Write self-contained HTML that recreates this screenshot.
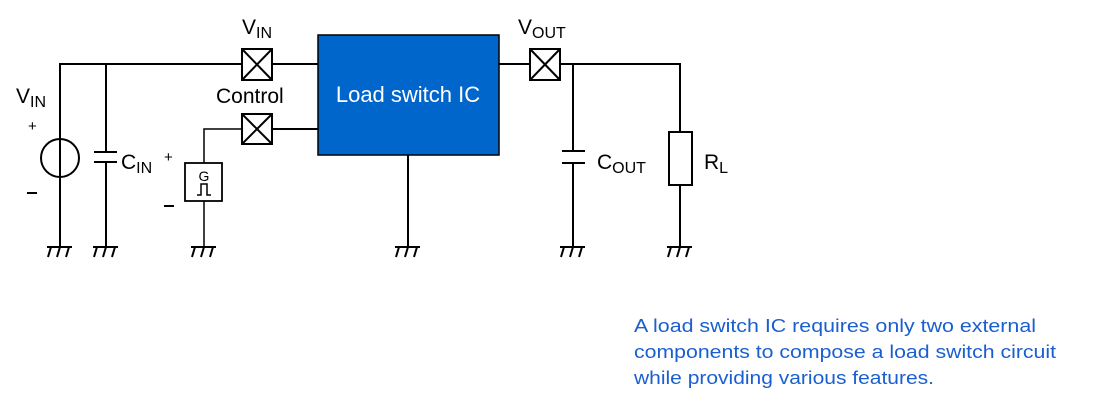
<!DOCTYPE html>
<html><head><meta charset="utf-8"><style>
html,body{margin:0;padding:0;background:#fff;}
svg{display:block;}
text{font-family:"Liberation Sans",sans-serif;}
</style></head><body>
<svg width="1110" height="402" viewBox="0 0 1110 402" xmlns="http://www.w3.org/2000/svg">
<g stroke="#000" stroke-width="2" fill="none">
<polyline points="60,248 60,64 242,64"/>
<line x1="106" y1="64" x2="106" y2="152"/>
<line x1="106" y1="162" x2="106" y2="248"/>
<line x1="94" y1="152" x2="117" y2="152"/>
<line x1="94" y1="162" x2="117" y2="162"/>
<circle cx="60" cy="158" r="19" fill="#fff"/>
<line x1="60" y1="139" x2="60" y2="177"/>
<line x1="272" y1="64" x2="318" y2="64"/>
<polyline points="242,129 204,129 204,163" stroke-width="1.5"/>
<line x1="272" y1="129" x2="318" y2="129"/>
<rect x="185" y="163" width="37" height="38" stroke-width="1.8"/>
<polyline points="197,195 201,195 201,184 207,184 207,195 211,195" stroke-width="1.5"/>
<line x1="204" y1="201" x2="204" y2="248" stroke-width="1.5"/>
<rect x="242" y="49" width="30" height="31"/>
<line x1="242" y1="49" x2="272" y2="80"/><line x1="272" y1="49" x2="242" y2="80"/>
<rect x="242" y="114" width="30" height="30"/>
<line x1="242" y1="114" x2="272" y2="144"/><line x1="272" y1="114" x2="242" y2="144"/>
<rect x="530" y="49" width="30" height="31"/>
<line x1="530" y1="49" x2="560" y2="80"/><line x1="560" y1="49" x2="530" y2="80"/>
<line x1="408" y1="155" x2="408" y2="248"/>
<line x1="499" y1="64" x2="530" y2="64"/>
<polyline points="560,64 680,64 680,132"/>
<line x1="573" y1="64" x2="573" y2="151"/>
<line x1="573" y1="163" x2="573" y2="248"/>
<line x1="562" y1="151" x2="585" y2="151"/>
<line x1="562" y1="163" x2="585" y2="163"/>
<rect x="669" y="132" width="23" height="53"/>
<line x1="680" y1="185" x2="680" y2="248"/>
<g id="gnd">
<line x1="47" y1="247" x2="72" y2="247"/>
<line x1="51" y1="247" x2="48" y2="257"/>
<line x1="60" y1="247" x2="57" y2="257"/>
<line x1="69" y1="247" x2="66" y2="257"/>
</g>
<use href="#gnd" x="46"/>
<use href="#gnd" x="144"/>
<use href="#gnd" x="348"/>
<use href="#gnd" x="513"/>
<use href="#gnd" x="620"/>
</g>
<rect x="318" y="35" width="181" height="120" fill="#0066cc" stroke="#000" stroke-width="1.5"/>
<text x="408" y="102" font-size="22" fill="#fff" text-anchor="middle">Load switch IC</text>
<g font-size="21" fill="#000">
<text x="242" y="34">V<tspan font-size="16" dy="4">IN</tspan></text>
<text x="16" y="103">V<tspan font-size="16" dy="4">IN</tspan></text>
<text x="216" y="103">Control</text>
<text x="121" y="169">C<tspan font-size="16" dy="4">IN</tspan></text>
<text x="518" y="34">V<tspan font-size="16" dy="4">OUT</tspan></text>
<text x="597" y="169">C<tspan font-size="16" dy="4">OUT</tspan></text>
<text x="704" y="169">R<tspan font-size="16" dy="4">L</tspan></text>
<text x="204" y="181" font-size="14" text-anchor="middle">G</text>
</g>
<g font-size="15" fill="#000">
<text x="28" y="131">+</text>
<text x="164" y="162">+</text>
</g>
<line x1="27" y1="193" x2="37" y2="193" stroke="#000" stroke-width="2"/>
<line x1="164" y1="206" x2="174" y2="206" stroke="#000" stroke-width="2"/>
<g font-size="18" fill="#1a5fd0">
<text x="634" y="332" textLength="402" lengthAdjust="spacingAndGlyphs">A load switch IC requires only  two external</text>
<text x="634" y="358" textLength="422" lengthAdjust="spacingAndGlyphs">components to compose a load switch circuit</text>
<text x="634" y="384" textLength="300" lengthAdjust="spacingAndGlyphs">while providing various features.</text>
</g>
</svg>
</body></html>
